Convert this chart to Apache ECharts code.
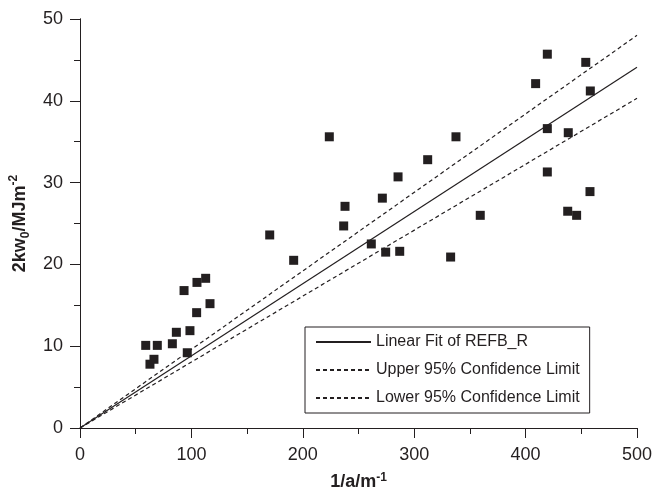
<!DOCTYPE html>
<html>
<head>
<meta charset="utf-8">
<script src="https://cdn.jsdelivr.net/npm/echarts@6/dist/echarts.min.js"></script>
<style>
  html, body { margin: 0; padding: 0; background: #fff; }
  #chart { width: 654px; height: 491px; }
</style>
</head>
<body>
<div id="chart"></div>
<script>
// measured points (1/a, 2kw0)
var ptX = [59, 62.8, 66.4, 69.4, 82.9, 86.5, 93.4, 96.3, 98.7, 104.7, 105, 112.8, 116.7,
           170.3, 191.8, 223.8, 236.7, 237.9, 261.5, 271.4, 274.4, 285.5, 287, 312.1,
           332.7, 337.5, 359.3, 409, 419.5, 419.5, 419.5, 437.8, 438.3, 445.8, 454, 458.1, 457.8];
var ptY = [10.1, 7.8, 8.4, 10.1, 10.3, 11.7, 16.8, 9.2, 11.9, 14.1, 17.8, 18.3, 15.2,
           23.6, 20.5, 35.6, 24.7, 27.1, 22.5, 28.1, 21.5, 30.7, 21.6, 32.8,
           20.9, 35.6, 26.0, 42.1, 45.7, 36.6, 31.3, 26.5, 36.1, 26.0, 44.7, 41.2, 28.9];
// fit line + confidence limits (through origin)
var fitX = [0, 500];
var fitY = [0, 44.1];
var upperY = [0, 48.0];
var lowerY = [0, 40.3];
var legendNames = ['Linear Fit of REFB_R', 'Upper 95% Confidence Limit', 'Lower 95% Confidence Limit'];

var FONT = 'Liberation Sans, Arial, sans-serif';
var INK = '#231f20';

function pairs(xs, ys) {
  var out = [];
  for (var i = 0; i < xs.length; i++) out.push([xs[i], ys[i]]);
  return out;
}

var myChart = echarts.init(document.getElementById('chart'));
var axisCommon = {
  axisLine: { lineStyle: { color: INK, width: 1 } },
  splitLine: { show: false }
};
var option = {
  animation: false,
  grid: { left: 80, right: 17, top: 19, bottom: 63, containLabel: false, outerBoundsMode: 'none' },
  legend: {
    data: legendNames,
    orient: 'vertical',
    left: 305, top: 327,
    padding: [7, 10, 7, 10],
    itemWidth: 55, itemHeight: 14, itemGap: 12,
    borderColor: INK, borderWidth: 1,
    selectedMode: false,
    itemStyle: { opacity: 0 },
    textStyle: { fontFamily: FONT, fontSize: 16, color: INK }
  },
  xAxis: [{
    type: 'value', min: 0, max: 500, interval: 100,
    name: '1/a/m{sup|-1}', nameLocation: 'middle', nameGap: 44,
    nameTextStyle: {
      fontFamily: FONT, fontSize: 18, fontWeight: 'bold', color: INK, lineHeight: 20,
      rich: { sup: { fontFamily: FONT, fontSize: 12, fontWeight: 'bold', color: INK, verticalAlign: 'top', lineHeight: 12 } }
    },
    axisLine: axisCommon.axisLine, splitLine: axisCommon.splitLine,
    axisTick: { length: 10, lineStyle: { color: INK } },
    minorTick: { show: true, splitNumber: 2, length: 6, lineStyle: { color: INK } },
    axisLabel: { margin: 18, fontFamily: FONT, fontSize: 18, color: INK }
  }, {
    type: 'value', min: 0, max: 500, interval: 100, position: 'top',
    axisLine: axisCommon.axisLine, splitLine: axisCommon.splitLine,
    axisTick: { inside: true, length: 4, lineStyle: { color: INK } },
    minorTick: { show: true, splitNumber: 2, length: 3, lineStyle: { color: INK } },
    axisLabel: { show: false }
  }],
  yAxis: [{
    type: 'value', min: 0, max: 50, interval: 10,
    name: '2kw{sub|0}/MJm{sup|-2}', nameLocation: 'middle', nameGap: 47, nameRotate: 90,
    nameTextStyle: {
      fontFamily: FONT, fontSize: 18, fontWeight: 'bold', color: INK, lineHeight: 24,
      rich: {
        sup: { fontFamily: FONT, fontSize: 12, fontWeight: 'bold', color: INK, verticalAlign: 'top', lineHeight: 14 },
        sub: { fontFamily: FONT, fontSize: 12, fontWeight: 'bold', color: INK, verticalAlign: 'bottom', lineHeight: 12 }
      }
    },
    axisLine: axisCommon.axisLine, splitLine: axisCommon.splitLine,
    axisTick: { length: 10, lineStyle: { color: INK } },
    minorTick: { show: true, splitNumber: 2, length: 6, lineStyle: { color: INK } },
    axisLabel: { margin: 17, fontFamily: FONT, fontSize: 18, color: INK }
  }, {
    type: 'value', min: 0, max: 50, interval: 10, position: 'right',
    axisLine: axisCommon.axisLine, splitLine: axisCommon.splitLine,
    axisTick: { inside: true, length: 4, lineStyle: { color: INK } },
    minorTick: { show: true, splitNumber: 2, length: 3, lineStyle: { color: INK } },
    axisLabel: { show: false }
  }],
  series: [
    {
      name: 'REFB_R', type: 'scatter', symbol: 'rect', symbolSize: 9,
      itemStyle: { color: INK, opacity: 1 },
      data: pairs(ptX, ptY), z: 5
    },
    {
      name: legendNames[0], type: 'line', symbol: 'none', data: pairs(fitX, fitY),
      lineStyle: { color: INK, width: 1.2, type: 'solid' }, itemStyle: { color: INK }
    },
    {
      name: legendNames[1], type: 'line', symbol: 'none', data: pairs(fitX, upperY),
      lineStyle: { color: INK, width: 1.2, type: [4, 3] }, itemStyle: { color: INK }
    },
    {
      name: legendNames[2], type: 'line', symbol: 'none', data: pairs(fitX, lowerY),
      lineStyle: { color: INK, width: 1.2, type: [4, 3] }, itemStyle: { color: INK }
    }
  ]
};
myChart.setOption(option);
</script>
</body>
</html>
